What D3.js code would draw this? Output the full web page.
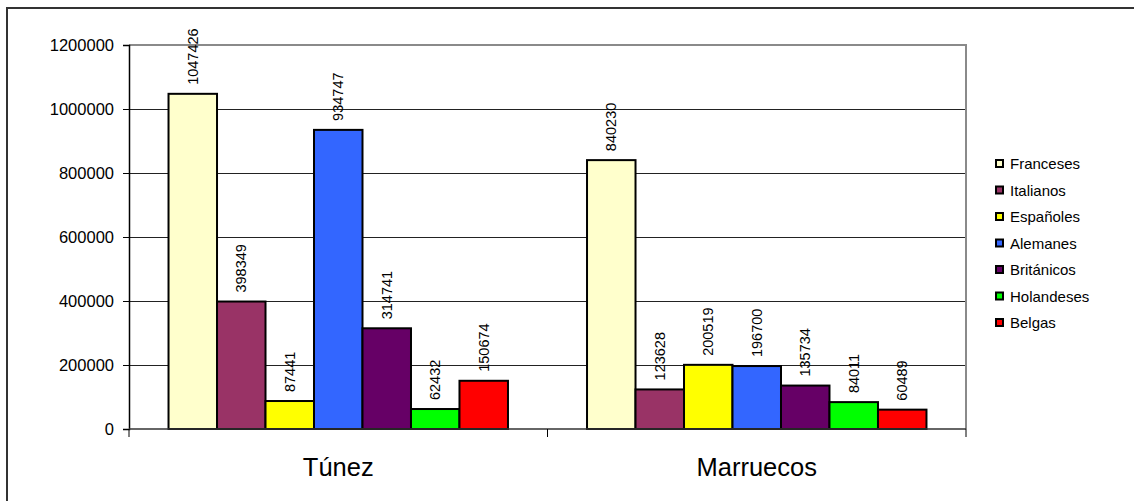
<!DOCTYPE html>
<html>
<head>
<meta charset="utf-8">
<script src="https://cdn.jsdelivr.net/npm/d3@7"></script>
<style>
html,body{margin:0;padding:0;background:#fff;}
svg{display:block;font-family:"Liberation Sans",Arial,sans-serif;}
</style>
</head>
<body>
<svg id="chart" width="1134" height="501"></svg>
<script>
const categories = ["Túnez", "Marruecos"];
const seriesNames = ["Franceses", "Italianos", "Españoles", "Alemanes", "Británicos", "Holandeses", "Belgas"];
const seriesColors = ["#FFFFCC", "#993366", "#FFFF00", "#3366FF", "#660066", "#00FF00", "#FF0000"];
const tunezValues = [1047426, 398349, 87441, 934747, 314741, 62432, 150674];
const marruecosValues = [840230, 123628, 200519, 196700, 135734, 84011, 60489];
const yTicks = [0, 200000, 400000, 600000, 800000, 1000000, 1200000];

const valuesByCategory = [tunezValues, marruecosValues];

const svg = d3.select("#chart");
const plot = {left: 129, right: 966, top: 45, bottom: 429};

// outer border
svg.append("rect").attr("x", 7).attr("y", 8).attr("width", 1140).attr("height", 510)
  .attr("fill", "#fff").attr("stroke", "#333").attr("stroke-width", 2);

const x0 = d3.scaleBand().domain(categories).range([plot.left, plot.right]).paddingInner(0).paddingOuter(0);
const x1 = d3.scaleBand().domain(seriesNames).range([0, x0.bandwidth()]).paddingInner(0).paddingOuter(0.815);
const y = d3.scaleLinear().domain([0, 1200000]).range([plot.bottom, plot.top]);

// gridlines
svg.append("g").selectAll("line").data(yTicks.filter(t => t > 0 && t < 1200000)).join("line")
  .attr("x1", plot.left).attr("x2", plot.right)
  .attr("y1", d => Math.round(y(d)) + 0.5).attr("y2", d => Math.round(y(d)) + 0.5)
  .attr("stroke", "#222").attr("stroke-width", 1);

// plot area border (gray top & right)
svg.append("path")
  .attr("d", `M${plot.left},${plot.top}H${plot.right}V${plot.bottom}`)
  .attr("fill", "none").attr("stroke", "#8a8a8a").attr("stroke-width", 2);

// bars
const groups = svg.append("g").selectAll("g").data(categories).join("g")
  .attr("transform", d => `translate(${x0(d)},0)`);

groups.each(function(cat, ci) {
  const g = d3.select(this);
  const data = seriesNames.map((s, i) => ({s, i, v: valuesByCategory[ci][i]}));
  g.selectAll("rect").data(data).join("rect")
    .attr("x", d => x1(d.s))
    .attr("y", d => y(d.v))
    .attr("width", x1.bandwidth())
    .attr("height", d => y(0) - y(d.v))
    .attr("fill", d => seriesColors[d.i])
    .attr("stroke", "#000").attr("stroke-width", 2);
  g.selectAll("text").data(data).join("text")
    .attr("transform", d => `translate(${x1(d.s) + x1.bandwidth() / 2 + 5},${y(d.v) - 9}) rotate(-90)`)
    .attr("text-anchor", "start")
    .attr("font-size", "14.5px")
    .attr("fill", "#000")
    .text(d => d.v);
});

// y axis
const yAxis = d3.axisLeft(y).tickValues(yTicks).tickSize(6).tickPadding(9).tickFormat(d3.format("d"));
const ya = svg.append("g").attr("transform", `translate(${plot.left},0)`).call(yAxis);
ya.select(".domain").attr("stroke", "#000").attr("stroke-width", 1.5);
ya.selectAll(".tick line").attr("stroke", "#000");
ya.selectAll(".tick text").attr("font-size", "16.5px").attr("font-family", "Liberation Sans, Arial, sans-serif").attr("fill", "#000");

// x axis
const xa = svg.append("g").attr("transform", `translate(0,${plot.bottom})`);
xa.append("line").attr("x1", plot.left).attr("x2", plot.right).attr("y1", 0).attr("y2", 0)
  .attr("stroke", "#333").attr("stroke-width", 1.5);
const xTickPos = [plot.left].concat(categories.map(c => x0(c) + x0.bandwidth()));
xa.selectAll("line.tk").data(xTickPos).join("line").attr("class", "tk")
  .attr("x1", d => d).attr("x2", d => d).attr("y1", 0).attr("y2", 8)
  .attr("stroke", "#000").attr("stroke-width", 1);
xa.selectAll("text").data(categories).join("text")
  .attr("x", d => x0(d) + x0.bandwidth() / 2)
  .attr("y", 47)
  .attr("text-anchor", "middle")
  .attr("font-size", "25.5px")
  .attr("fill", "#000")
  .text(d => d);

// legend
const legend = svg.append("g").selectAll("g").data(seriesNames).join("g")
  .attr("transform", (d, i) => `translate(996,${164 + i * 26.5})`);
legend.append("rect").attr("x", 0).attr("y", -4).attr("width", 7).attr("height", 7)
  .attr("fill", (d, i) => seriesColors[i]).attr("stroke", "#000").attr("stroke-width", 2);
legend.append("text").attr("x", 14).attr("y", 0).attr("dy", "0.35em")
  .attr("font-size", "15px").attr("fill", "#000").text(d => d);
</script>
</body>
</html>
